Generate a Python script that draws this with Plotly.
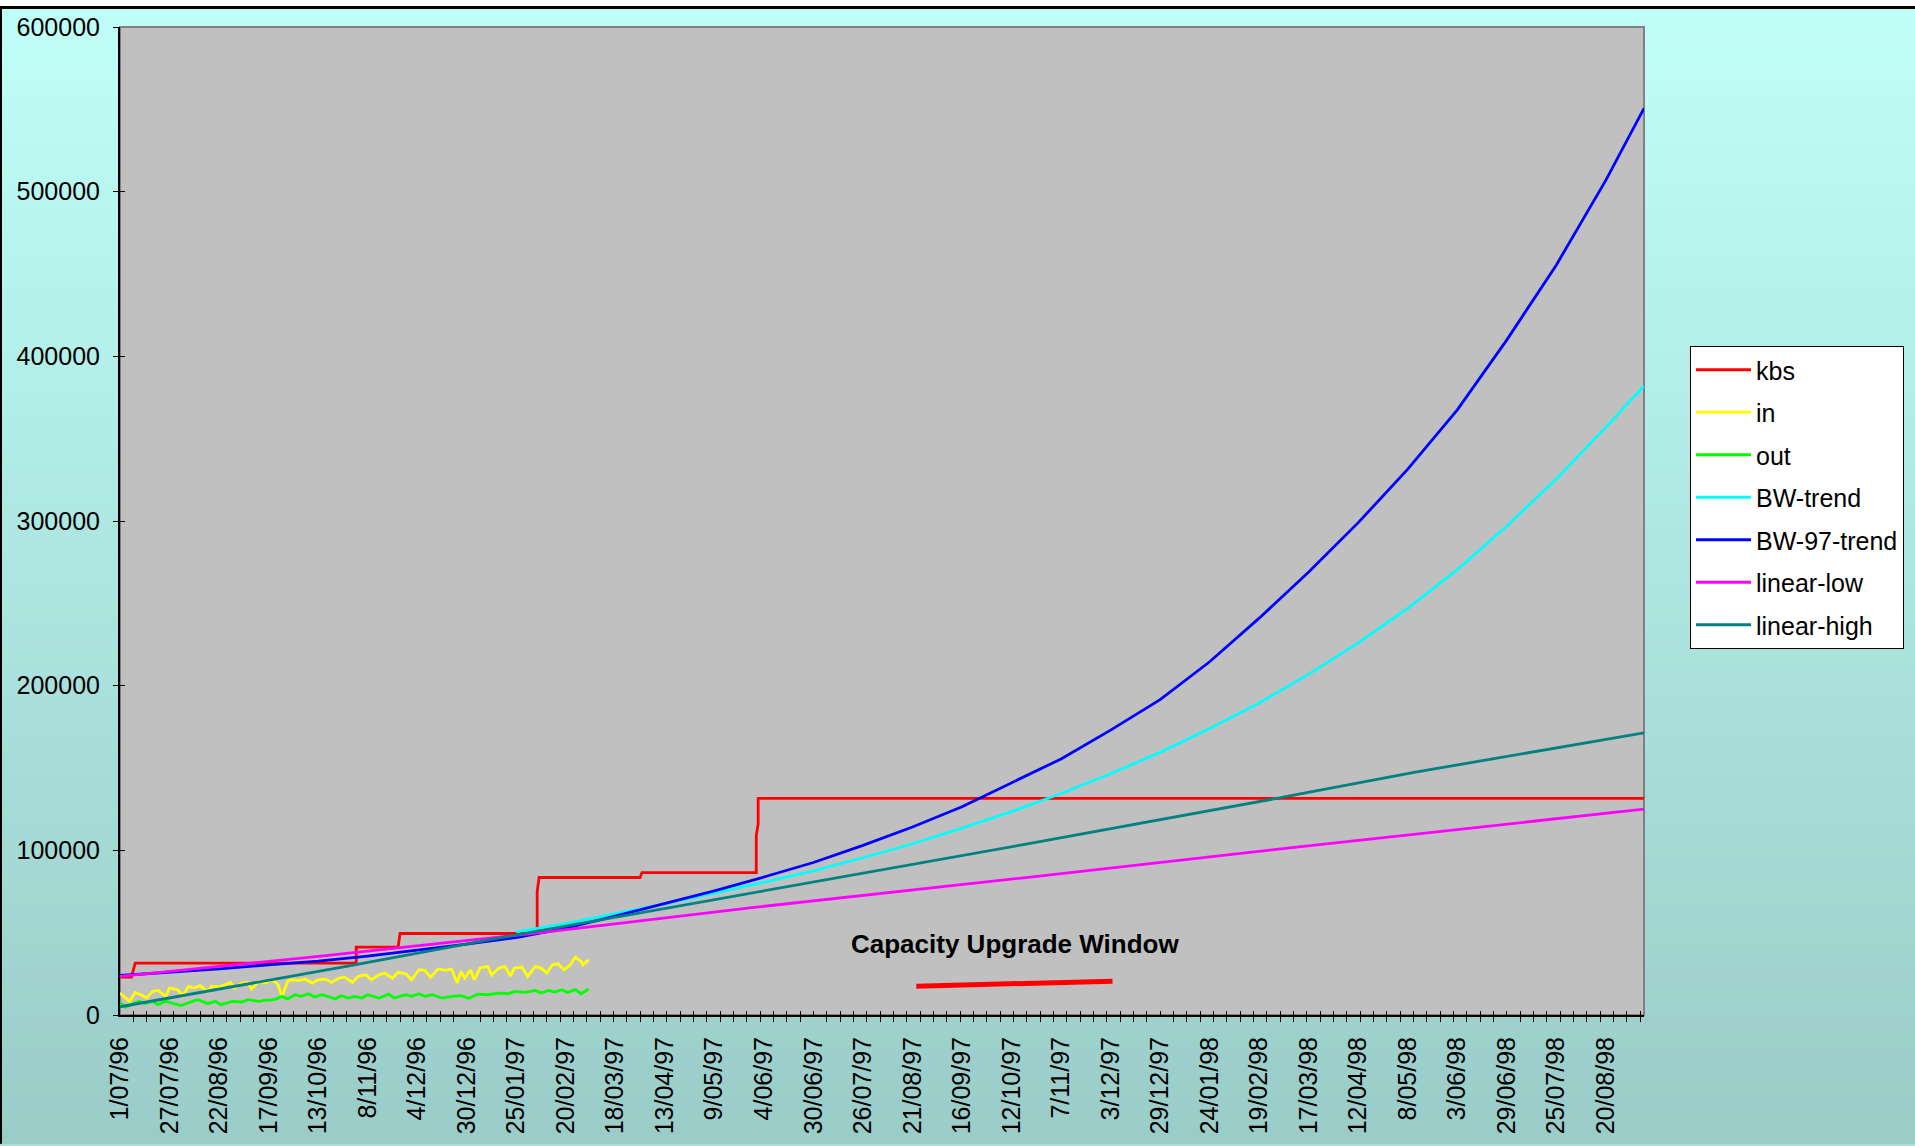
import pandas as pd
import plotly.graph_objects as go

# ---------------- data ----------------
START = "1996-07-01"
END = "1998-09-09"

TREND_DATES = [
    "1996-07-01", "1996-07-27", "1996-08-22", "1996-09-17", "1996-10-13", "1996-11-08",
    "1996-12-04", "1996-12-30", "1997-01-25", "1997-02-20", "1997-03-18", "1997-04-13",
    "1997-05-09", "1997-06-04", "1997-06-30", "1997-07-26", "1997-08-21", "1997-09-16",
    "1997-10-12", "1997-11-07", "1997-12-03", "1997-12-29", "1998-01-24", "1998-02-19",
    "1998-03-17", "1998-04-12", "1998-05-08", "1998-06-03", "1998-06-29", "1998-07-25",
    "1998-08-20", "1998-09-09",
]

BW97_TREND = [24000, 26000, 28000, 30500, 32700, 35700, 39200, 43000, 47000, 52800,
              60000, 67700, 75400, 83800, 92600, 103000, 114200, 126500, 141000, 155500,
              173000, 191500, 214500, 241000, 269000, 299000, 331500, 367500, 410000,
              455500, 507000, 550600]

BW_TREND_DATES = TREND_DATES[8:]
BW_TREND = [50500, 55500, 61500, 67500, 74000, 80500, 87500, 95500, 104000, 113500,
            123500, 134500, 146500, 159500, 174000, 189500, 207000, 226000, 247000,
            270500, 297000, 325500, 357000, 382000]

LOW_DATES = ["1996-07-01", "1996-10-12", "1997-02-07", "1997-05-31", "1997-10-16",
             "1998-03-07", "1998-09-09"]
LINEAR_LOW = [23500, 35500, 50000, 65500, 83000, 101500, 125000]

HIGH_DATES = ["1996-07-01", "1996-10-30", "1997-01-17", "1997-10-16", "1998-03-07",
              "1998-05-12", "1998-09-09"]
LINEAR_HIGH = [5000, 30000, 47000, 103000, 133000, 147500, 171300]

KBS_DATES = ["1996-07-01", "1996-07-07", "1996-07-09", "1996-11-02", "1996-11-02",
             "1996-11-24", "1996-11-25", "1997-02-05", "1997-02-05", "1997-02-06",
             "1997-03-31", "1997-04-01", "1997-05-31", "1997-05-31", "1997-06-01",
             "1997-06-01", "1998-09-09"]
KBS = [23000, 23000, 31500, 31500, 41200, 41200, 49500, 49500, 75000, 83500,
       83500, 86500, 86500, 109000, 116000, 131500, 131500]

IN_DAYS = [0, 3, 5, 8, 11, 14, 17, 20, 24, 26,
           30, 33, 36, 39, 42, 46, 48, 52, 55, 58,
           60, 64, 67, 69, 73, 76, 80, 83, 85, 88,
           90, 94, 97, 101, 104, 108, 111, 115, 118, 122,
           125, 129, 132, 136, 139, 143, 146, 150, 153, 157,
           160, 163, 167, 171, 174, 177, 179, 181, 184, 186,
           189, 193, 195, 199, 202, 205, 207, 211, 214, 218,
           221, 224, 227, 230, 233, 236, 239, 242, 243, 246]
IN_VALUES = [13300, 10300, 8300, 13700, 12300, 10300, 14300, 14900, 11300, 16400,
             15400, 11700, 17400, 16400, 17800, 14300, 17400, 17000, 18400, 19800,
             16400, 19400, 19800, 15800, 20400, 19400, 21400, 18400, 11300, 20400,
             21400, 21000, 21800, 19400, 21400, 21800, 19800, 22400, 23000, 19800,
             23400, 24400, 21400, 24400, 25500, 22400, 25900, 25000, 21400, 27500,
             27100, 23000, 27900, 27100, 27900, 19400, 26500, 22400, 27500, 21400,
             28500, 29500, 24400, 28500, 29500, 23800, 28500, 29100, 23400, 29500,
             28500, 25500, 30500, 31100, 27500, 29900, 35100, 32500, 30500, 33500]

OUT_DAYS = [0, 3, 6, 10, 13, 17, 20, 24, 27, 32,
            38, 41, 46, 50, 53, 59, 64, 67, 73, 76,
            81, 85, 88, 92, 95, 99, 102, 106, 109, 113,
            116, 120, 123, 127, 130, 136, 141, 144, 150, 153,
            157, 160, 164, 169, 174, 179, 183, 188, 193, 199,
            204, 207, 213, 218, 221, 225, 228, 232, 235, 239,
            242, 246]
OUT_VALUES = [7300, 4800, 6300, 8300, 6900, 8300, 6300, 8300, 7300, 5700,
              8300, 9300, 6900, 8300, 6300, 8300, 7900, 9300, 8300, 8900,
              9300, 11300, 9700, 12300, 11300, 12900, 10900, 12300, 11300, 9700,
              11700, 10300, 11300, 10300, 12300, 10300, 12700, 10300, 12300, 11300,
              12900, 11300, 12300, 10300, 11300, 11700, 10100, 12700, 12300, 13300,
              12900, 14300, 13700, 14900, 13300, 14900, 13900, 15400, 13700, 15400,
              12900, 15800]

ANNOT_TEXT = "Capacity Upgrade Window"
ANNOT_X = "1997-10-14"
ANNOT_Y = 43000
WINDOW_X = ["1997-08-23", "1997-12-04"]
WINDOW_Y = [17500, 20500]

# ---------------- helpers ----------------
start_ts = pd.Timestamp(START)
in_dates = [start_ts + pd.Timedelta(days=d) for d in IN_DAYS]
out_dates = [start_ts + pd.Timedelta(days=d) for d in OUT_DAYS]

W, H = 1915, 1146
L, R, T, B = 120, 271, 27, 129
PW = W - L - R
PH = H - T - B
FONT = "Arial, 'Liberation Sans', sans-serif"
DAY_MS = 86400000


def px_x(px):
    return (px - L) / PW


def px_y(py):
    return (H - B - py) / PH


fig = go.Figure()

series = [
    ("kbs", KBS_DATES, KBS, "#FF0000"),
    ("in", in_dates, IN_VALUES, "#FFFF00"),
    ("out", out_dates, OUT_VALUES, "#00FF00"),
    ("BW-trend", BW_TREND_DATES, BW_TREND, "#00FFFF"),
    ("BW-97-trend", TREND_DATES, BW97_TREND, "#0000FF"),
    ("linear-low", LOW_DATES, LINEAR_LOW, "#FF00FF"),
    ("linear-high", HIGH_DATES, LINEAR_HIGH, "#008080"),
]
for name, xs, ys, col in series:
    fig.add_trace(go.Scatter(x=xs, y=ys, name=name, mode="lines",
                             line=dict(color=col, width=2.8), legendgroup=name))

# overlay axes for the inner half of cross tick marks
fig.add_trace(go.Scatter(x=[], y=[], xaxis="x2", yaxis="y2", showlegend=False,
                         hoverinfo="skip"))

# ---------------- background shapes ----------------
shapes = []
N = 72
top = (192, 255, 248)
bot = (154, 204, 200)
for i in range(N):
    f = (i + 0.5) / N
    c = tuple(round(top[k] + (bot[k] - top[k]) * f) for k in range(3))
    shapes.append(dict(type="rect", xref="paper", yref="paper", layer="below",
                       x0=px_x(0), x1=px_x(W), y0=px_y(i * H / N), y1=px_y((i + 1) * H / N + 0.6),
                       fillcolor="rgb(%d,%d,%d)" % c, line=dict(width=0)))
# white strip and black frame on top / left
shapes.append(dict(type="rect", xref="paper", yref="paper", layer="below",
                   x0=px_x(0), x1=px_x(W), y0=px_y(0), y1=px_y(6),
                   fillcolor="white", line=dict(width=0)))
shapes.append(dict(type="rect", xref="paper", yref="paper", layer="below",
                   x0=px_x(0), x1=px_x(W), y0=px_y(6), y1=px_y(9),
                   fillcolor="black", line=dict(width=0)))
shapes.append(dict(type="rect", xref="paper", yref="paper", layer="below",
                   x0=px_x(0), x1=px_x(2), y0=px_y(6), y1=px_y(H),
                   fillcolor="black", line=dict(width=0)))
# plot area
shapes.append(dict(type="rect", xref="paper", yref="paper", layer="below",
                   x0=0, x1=1, y0=0, y1=1, fillcolor="#C0C0C0",
                   line=dict(color="#808080", width=2)))
# capacity upgrade window line
shapes.append(dict(type="line", xref="x", yref="y", layer="above",
                   x0=WINDOW_X[0], x1=WINDOW_X[1], y0=WINDOW_Y[0], y1=WINDOW_Y[1],
                   line=dict(color="#FF0000", width=5)))

fig.update_layout(
    width=W, height=H,
    margin=dict(l=L, r=R, t=T, b=B, pad=0),
    paper_bgcolor="rgb(173,230,224)",
    plot_bgcolor="#C0C0C0",
    font=dict(family=FONT, color="black", size=24),
    shapes=shapes,
    showlegend=True,
    legend=dict(xref="container", yref="container", x=1690 / W, y=1 - 346 / H,
                xanchor="left", yanchor="top", bgcolor="white", bordercolor="black",
                borderwidth=1, font=dict(family=FONT, size=25, color="black"),
                tracegroupgap=7, itemwidth=55, traceorder="grouped"),
    annotations=[dict(x=ANNOT_X, y=ANNOT_Y, xref="x", yref="y", text="<b>%s</b>" % ANNOT_TEXT,
                      showarrow=False, font=dict(family=FONT, size=26, color="black"))],
    xaxis=dict(type="date", range=[START, END], tick0=START, dtick=26 * DAY_MS,
               tickformat="%-d/%m/%y", tickangle=-90, ticks="", showline=True,
               linecolor="black", linewidth=2, showgrid=False, zeroline=False,
               tickfont=dict(family=FONT, size=25, color="black"), ticklabelstandoff=10,
               minor=dict(dtick=7 * DAY_MS, tick0=START, ticks="outside", ticklen=5,
                          tickwidth=1.3, tickcolor="black", showgrid=False)),
    yaxis=dict(range=[0, 600000], dtick=100000, tickformat="d", ticks="outside",
               ticklen=5, tickwidth=1.3, tickcolor="black", showline=True,
               linecolor="black", linewidth=2, showgrid=False, zeroline=False,
               tickfont=dict(family=FONT, size=25, color="black"), ticklabelstandoff=8),
    xaxis2=dict(type="date", range=[START, END], overlaying="x", anchor="y2", side="bottom",
                showticklabels=False, ticks="", showline=False, showgrid=False,
                zeroline=False,
                minor=dict(dtick=7 * DAY_MS, tick0=START, ticks="inside", ticklen=4,
                           tickwidth=1.3, tickcolor="black", showgrid=False)),
    yaxis2=dict(range=[0, 600000], overlaying="y", anchor="x2", side="left", dtick=100000,
                showticklabels=False, ticks="inside", ticklen=5, tickwidth=1.3,
                tickcolor="black", showline=False, showgrid=False, zeroline=False),
)

fig.write_html("out.html")
